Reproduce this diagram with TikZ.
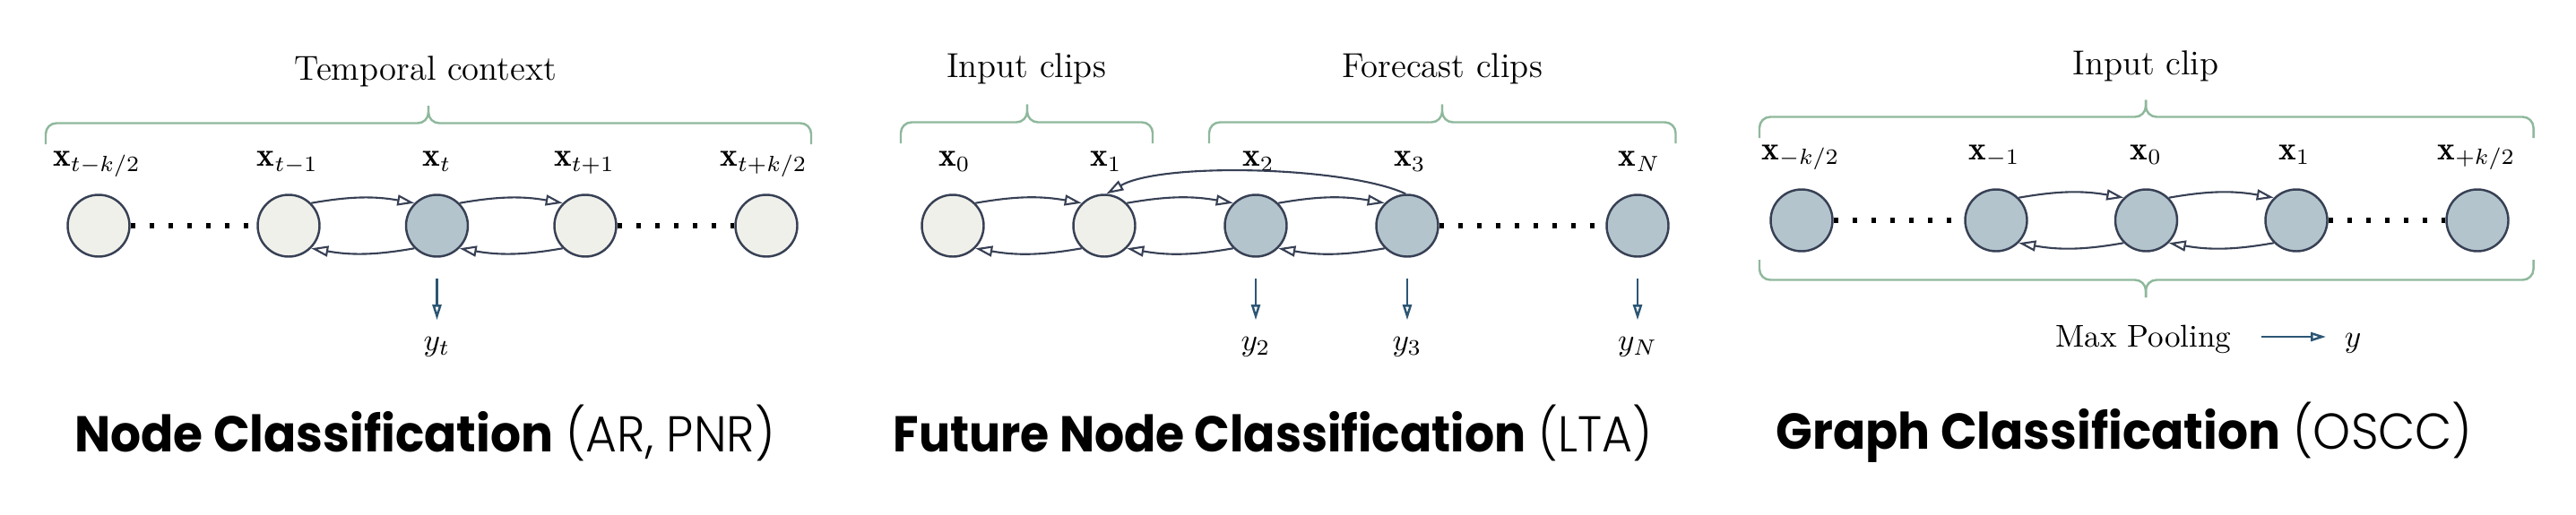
\documentclass[tikz,border=0pt]{standalone}
\usepackage{fontspec}
\newfontfamily\titlefont{Poppins}
\newfontfamily\titlelight{Poppins Light}
\usetikzlibrary{arrows.meta}
\definecolor{nodeline}{RGB}{55,64,84}
\definecolor{lightfill}{RGB}{240,240,234}
\definecolor{bluefill}{RGB}{179,196,205}
\definecolor{bracecol}{RGB}{143,184,156}
\definecolor{outcol}{RGB}{44,86,116}
\tikzset{
  gnode/.style={circle, draw=nodeline, line width=0.7pt, minimum size=0.69cm, inner sep=0pt},
  lnode/.style={gnode, fill=lightfill},
  bnode/.style={gnode, fill=bluefill},
  edge/.style={draw=nodeline, line width=0.6pt, -{Triangle[open, length=0.19cm, width=0.12cm]}},
  outarrow/.style={draw=outcol, line width=0.7pt, -{Triangle[open, length=0.17cm, width=0.1cm]}},
  dotline/.style={line width=0.055cm, dash pattern=on 0.055cm off 0.155cm},
  bracepath/.style={draw=bracecol, line width=0.7pt, rounded corners=0.12cm},
  lbl/.style={anchor=base, inner sep=0pt, font=\fontsize{10}{12}\selectfont},
  xlbl/.style={anchor=base, inner sep=0pt, font=\fontsize{10.6}{12.5}\selectfont},
  hdr/.style={anchor=base, inner sep=0pt, font=\fontsize{11}{13}\selectfont},
  ttl/.style={anchor=base, inner sep=0pt, xscale=0.95, transform shape, font=\titlefont\fontsize{16}{19}\selectfont},
}
\begin{document}
\begin{tikzpicture}
\useasboundingbox (0,0) rectangle (28.74,-5.74);

% ---------------- Panel 1 ----------------
\node[hdr] (tc) at (4.75,-0.893) {Temporal context};
\draw[bracepath] (0.51,-1.61) -- (0.51,-1.375) -- (4.78,-1.375) -- (4.78,-1.18);
\draw[bracepath] (9.05,-1.61) -- (9.05,-1.375) -- (4.78,-1.375) -- (4.78,-1.18);

\node[xlbl] (la1) at (1.08,-1.855) {$\mathbf{x}_{t-k/2}$};
\node[xlbl] (la2) at (3.21,-1.855) {$\mathbf{x}_{t-1}$};
\node[xlbl] (la3) at (4.875,-1.855) {$\mathbf{x}_{t}$};
\node[xlbl] (la4) at (6.52,-1.855) {$\mathbf{x}_{t+1}$};
\node[xlbl] (la5) at (8.52,-1.855) {$\mathbf{x}_{t+k/2}$};

\node[lnode] (a1) at (1.10,-2.52) {};
\node[lnode] (a2) at (3.22,-2.52) {};
\node[bnode] (a3) at (4.875,-2.52) {};
\node[lnode] (a4) at (6.53,-2.52) {};
\node[lnode] (a5) at (8.55,-2.52) {};

\draw[dotline] (a1.east) -- (a2.west);
\draw[dotline] (a4.east) -- (a5.west);
\draw[edge] (a2.45) to[bend left=10] (a3.135);
\draw[edge] (a3.-135) to[bend left=10] (a2.-45);
\draw[edge] (a3.45) to[bend left=10] (a4.135);
\draw[edge] (a4.-135) to[bend left=10] (a3.-45);

\node[lbl] (ya) at (4.875,-3.91) {$y_t$};
\draw[outarrow] ([yshift=-0.235cm]a3.south) -- ++(0,-0.46);

\node[ttl] (t1) at (4.74,-5.04) {{\bfseries Node Classification} {\titlelight(AR, PNR)}};

% ---------------- Panel 2 ----------------
\node[hdr] (ic) at (11.45,-0.865) {Input clips};
\node[hdr] (fc) at (16.09,-0.865) {Forecast clips};
\draw[bracepath] (10.05,-1.60) -- (10.05,-1.365) -- (11.46,-1.365) -- (11.46,-1.165);
\draw[bracepath] (12.86,-1.60) -- (12.86,-1.365) -- (11.46,-1.365) -- (11.46,-1.165);
\draw[bracepath] (13.49,-1.60) -- (13.49,-1.365) -- (16.09,-1.365) -- (16.09,-1.165);
\draw[bracepath] (18.695,-1.60) -- (18.695,-1.365) -- (16.09,-1.365) -- (16.09,-1.165);

\node[xlbl] (lb0) at (10.65,-1.855) {$\mathbf{x}_{0}$};
\node[xlbl] (lb1) at (12.34,-1.855) {$\mathbf{x}_{1}$};
\node[xlbl] (lb2) at (14.04,-1.855) {$\mathbf{x}_{2}$};
\node[xlbl] (lb3) at (15.73,-1.855) {$\mathbf{x}_{3}$};
\node[xlbl] (lbN) at (18.29,-1.855) {$\mathbf{x}_{N}$};

\node[lnode] (b0) at (10.63,-2.52) {};
\node[lnode] (b1) at (12.32,-2.52) {};
\node[bnode] (b2) at (14.01,-2.52) {};
\node[bnode] (b3) at (15.70,-2.52) {};
\node[bnode] (bN) at (18.27,-2.52) {};

\draw[dotline] (b3.east) -- (bN.west);
\draw[edge] (b0.45) to[bend left=10] (b1.135);
\draw[edge] (b1.-135) to[bend left=10] (b0.-45);
\draw[edge] (b1.45) to[bend left=10] (b2.135);
\draw[edge] (b2.-135) to[bend left=10] (b1.-45);
\draw[edge] (b2.45) to[bend left=10] (b3.135);
\draw[edge] (b3.-135) to[bend left=10] (b2.-45);
\draw[edge] (b3.93) to[out=155,in=30,looseness=0.55] (b1.86);

\node[lbl] (y2) at (14.01,-3.91) {$y_2$};
\node[lbl] (y3) at (15.70,-3.91) {$y_3$};
\node[lbl] (yN) at (18.27,-3.91) {$y_N$};
\draw[outarrow] ([yshift=-0.235cm]b2.south) -- ++(0,-0.46);
\draw[outarrow] ([yshift=-0.235cm]b3.south) -- ++(0,-0.46);
\draw[outarrow] ([yshift=-0.235cm]bN.south) -- ++(0,-0.46);

\node[ttl, xscale=0.975] (t2) at (14.20,-5.04) {{\bfseries Future Node Classification} {\titlelight(LTA)}};

% ---------------- Panel 3 ----------------
\node[hdr] (icl) at (23.94,-0.83) {Input clip};
\draw[bracepath] (19.63,-1.54) -- (19.63,-1.305) -- (23.94,-1.305) -- (23.94,-1.115);
\draw[bracepath] (28.265,-1.54) -- (28.265,-1.305) -- (23.94,-1.305) -- (23.94,-1.115);

\node[xlbl] (lc1) at (20.09,-1.78) {$\mathbf{x}_{-k/2}$};
\node[xlbl] (lc2) at (22.25,-1.78) {$\mathbf{x}_{-1}$};
\node[xlbl] (lc3) at (23.945,-1.78) {$\mathbf{x}_{0}$};
\node[xlbl] (lc4) at (25.60,-1.78) {$\mathbf{x}_{1}$};
\node[xlbl] (lc5) at (27.63,-1.78) {$\mathbf{x}_{+k/2}$};

\node[bnode] (c1) at (20.10,-2.46) {};
\node[bnode] (c2) at (22.27,-2.46) {};
\node[bnode] (c3) at (23.945,-2.46) {};
\node[bnode] (c4) at (25.62,-2.46) {};
\node[bnode] (c5) at (27.64,-2.46) {};

\draw[dotline] (c1.east) -- (c2.west);
\draw[dotline] (c4.east) -- (c5.west);
\draw[edge] (c2.45) to[bend left=10] (c3.135);
\draw[edge] (c3.-135) to[bend left=10] (c2.-45);
\draw[edge] (c3.45) to[bend left=10] (c4.135);
\draw[edge] (c4.-135) to[bend left=10] (c3.-45);

\draw[bracepath] (19.63,-2.90) -- (19.63,-3.125) -- (23.94,-3.125) -- (23.94,-3.32);
\draw[bracepath] (28.265,-2.90) -- (28.265,-3.125) -- (23.94,-3.125) -- (23.94,-3.32);

\node[lbl, anchor=base east] (mp) at (24.90,-3.87) {Max Pooling};
\node[lbl] (yy) at (26.25,-3.87) {$y$};
\draw[outarrow] ([xshift=0.33cm,yshift=0.11cm]mp.base east) -- ([xshift=-0.2cm,yshift=0.11cm]yy.base west);

\node[ttl] (t3) at (23.70,-5.01) {{\bfseries Graph Classification} {\titlelight(OSCC)}};
\end{tikzpicture}
\end{document}
